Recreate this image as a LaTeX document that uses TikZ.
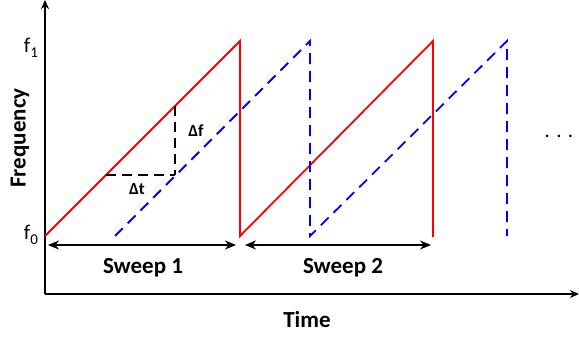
\documentclass[tikz,border=0pt]{standalone}
\usepackage{fontspec}
\setmainfont{Carlito}
\usetikzlibrary{arrows.meta,positioning}
\tikzset{
  axis/.style={-{Stealth[length=9pt,width=8pt]}, line width=2.2pt},
  sweeparr/.style={{Stealth[length=11pt,width=9pt]}-{Stealth[length=11pt,width=9pt]}, line width=2pt},
  chirp/.style={red, line width=1.8pt},
  echo/.style={blue, line width=1.8pt, dash pattern=on 11pt off 7pt},
  delta/.style={black, line width=1.6pt, dash pattern=on 10pt off 6pt},
  biglbl/.style={font=\fontsize{23}{26}\selectfont\bfseries, inner sep=1pt},
  smalllbl/.style={font=\fontsize{17}{19}\selectfont\bfseries, inner sep=1pt},
  flbl/.style={font=\fontsize{21}{24}\selectfont, inner sep=1pt}
}
\newcommand{\fsub}[1]{f\raisebox{-0.25em}{\fontsize{15}{17}\selectfont #1}}

\begin{document}
\begin{tikzpicture}[x=1pt,y=-1pt]
\useasboundingbox (0,0) rectangle (579,337);
% axes
\coordinate (o) at (45,294);
\coordinate (ytop) at (45,0);
\coordinate (xend) at (579,294);
\draw[axis] (o) -- (ytop);
\draw[axis] (o) -- (xend);
\node[biglbl, rotate=90] (ylab) at (20,138) {Frequency};
\node[biglbl] (xlab) at (307,320) {Time};
\node[flbl] (f1) at (31,48) {\fsub{1}};
\node[flbl] (f0) at (31,235) {\fsub{0}};
% transmitted chirp
\coordinate (r0) at (45,236);
\coordinate (r1) at (240,41);
\coordinate (r2) at (240,236);
\coordinate (r3) at (433,41);
\coordinate (r4) at (433,237);
\draw[chirp] (r0) -- (r1) -- (r2) -- (r3) -- (r4);
% delayed echo
\coordinate (b0) at (115,236);
\coordinate (b1) at (310,41);
\coordinate (b2) at (310,236);
\coordinate (b3) at (507,41);
\coordinate (b4) at (507,236);
\draw[echo] (b0) -- (b1) -- (b2) -- (b3) -- (b4);
% delta t / delta f
\coordinate (dA) at (106,175);
\coordinate (dB) at (175,175);
\coordinate (dC) at (175,106);
\draw[delta] (dA) -- (dB);
\draw[delta] (dC) -- (dB);
\node[smalllbl] (dt) at (137,189) {Δt};
\node[smalllbl] (df) at (196,131) {Δf};
% sweeps
\coordinate (s1a) at (48,245);
\coordinate (s1b) at (236,245);
\coordinate (s2a) at (245,245);
\coordinate (s2b) at (431,245);
\draw[sweeparr] (s1a) -- (s1b);
\draw[sweeparr] (s2a) -- (s2b);
\node[biglbl] (sw1) at (143,268) {Sweep 1};
\node[biglbl] (sw2) at (343,268) {Sweep 2};
\node[flbl, anchor=base] (more) at (559,137) {. . .};
\end{tikzpicture}
\end{document}
